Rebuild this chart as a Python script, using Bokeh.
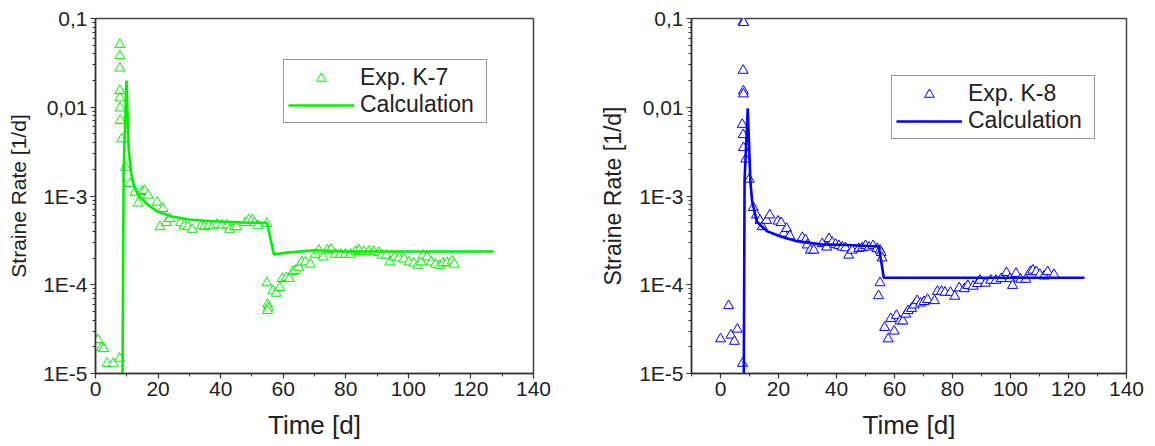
from bokeh.plotting import figure
from bokeh.layouts import row
from bokeh.models import (Range1d, SingleIntervalTicker, FixedTicker, CustomJSTickFormatter,
                          Legend, LegendItem)
from bokeh.embed import file_html
from bokeh.resources import INLINE

# ---------------- data ----------------
k7_exp_x = [0.8, 1.9, 2.6, 3.7, 5.7, 7.7,
            7.8, 7.8, 7.8, 7.8, 7.8, 7.9, 7.9, 8.4, 9.6, 11.0, 12.6, 13.6, 14.9, 15.7, 16.8,
            19.7, 21.6, 20.6, 22.7, 23.8, 27.2, 28.4, 29.5, 30.9, 33.8, 34.8, 36.2, 37.6, 38.9,
            40.5, 42.1, 42.9, 44.4, 45.1, 47.9, 49.0, 50.1, 50.8, 51.9, 54.8,
            54.8, 55.0, 55.2, 55.0, 56.7, 57.8, 58.9, 59.7, 61.0, 62.0, 63.1, 63.9, 65.0, 66.0,
            67.1, 68.7, 70.3, 71.4, 72.8, 74.1, 75.3, 76.7, 78.3, 79.9, 81.5, 83.1, 84.2, 85.8,
            87.4, 89.0, 90.6, 91.6, 93.0, 94.1, 95.6, 97.0, 98.6, 100.2, 101.7, 103.0, 104.1,
            104.7, 106.0, 107.3, 108.7, 110.0, 111.1, 112.4, 114.0, 114.7]
k7_exp_y = [2.4e-5, 1.95e-5, 1.9e-5, 1.3e-5, 1.3e-5, 1.48e-5,
            0.051, 0.038, 0.0276, 0.0154, 0.0127, 0.0098, 0.0071, 0.0044, 0.0021, 0.00138, 0.0011,
            8.3e-4, 1.12e-3, 1.15e-3, 1.02e-3,
            8.5e-4, 7.2e-4, 4.5e-4, 5.0e-4, 5.55e-4, 5.0e-4, 4.6e-4, 4.5e-4, 4.2e-4, 4.6e-4,
            4.5e-4, 4.6e-4, 4.6e-4, 4.8e-4, 4.7e-4, 4.7e-4, 4.2e-4, 4.5e-4, 4.5e-4, 5.0e-4,
            5.4e-4, 5.4e-4, 5.0e-4, 4.6e-4, 4.9e-4,
            1.05e-4, 6.0e-5, 5.5e-5, 5.1e-5, 8.5e-5, 8.0e-5, 9.3e-5, 1.17e-4, 1.2e-4, 1.17e-4,
            1.4e-4, 1.45e-4, 1.57e-4, 1.8e-4, 1.8e-4, 1.7e-4, 2.2e-4, 2.45e-4, 2.05e-4, 2.45e-4,
            2.5e-4, 2.2e-4, 2.2e-4, 2.2e-4, 2.2e-4, 2.37e-4, 2.45e-4, 2.37e-4, 2.37e-4, 2.37e-4,
            2.3e-4, 2.15e-4, 2.15e-4, 1.8e-4, 2.05e-4, 2.0e-4, 1.95e-4, 1.8e-4, 1.75e-4, 1.65e-4,
            1.8e-4, 2.15e-4, 2.05e-4, 1.8e-4, 1.7e-4, 1.65e-4, 1.75e-4, 1.78e-4, 1.85e-4, 1.7e-4]

k7_calc_x = [8.6, 9.0, 9.9, 10.6, 11.4, 12.3, 13.8, 16.5, 19.7, 24.0, 30.4, 37.8, 48.5, 54.8,
             57.0, 61.3, 69.8, 80.0, 100.0, 127.3]
k7_calc_y = [5e-6, 2e-3, 0.02, 0.0034, 0.0018, 0.0013, 1.0e-3, 8.1e-4, 6.7e-4, 5.9e-4, 5.4e-4,
             5.2e-4, 5.0e-4, 5.0e-4, 2.2e-4, 2.3e-4, 2.45e-4, 2.37e-4, 2.37e-4, 2.37e-4]

k8_exp_x = [0.0, 2.8, 3.6, 4.8, 5.8, 7.6,
            7.8, 8.0, 7.8, 7.9, 7.9, 7.5, 7.8, 7.9, 8.7, 9.9, 11.3, 12.4, 13.6, 14.4, 15.9, 17.0,
            19.8, 20.9, 21.8, 22.8, 23.9, 28.2, 29.3, 29.9, 31.0, 32.2, 35.1, 36.6, 37.4, 38.5,
            39.7, 40.8, 42.0, 43.1, 44.2, 45.4, 47.7, 48.9, 50.0, 51.2, 52.6, 54.0, 55.0, 55.4,
            55.7, 55.0, 54.5,
            56.6, 57.8, 58.7, 59.9, 60.7, 61.9, 62.9, 63.9, 64.7, 65.9, 66.8, 67.8, 69.0, 70.2,
            71.4, 73.8, 74.8, 76.2, 77.4, 79.3, 80.8, 82.3, 84.1, 85.3, 87.1, 88.6, 89.5, 91.4,
            93.2, 95.0, 96.8, 98.6, 99.8, 100.7, 101.9, 103.5, 105.3, 106.8, 107.7, 108.9,
            110.1, 111.6, 112.8, 115.0]
k8_exp_y = [2.45e-5, 5.8e-5, 2.7e-5, 2.3e-5, 3.15e-5, 1.3e-5,
            0.092, 0.09, 0.026, 0.0152, 0.0141, 0.0064, 0.0049, 0.0035, 0.0026, 0.00154, 7.4e-4,
            6.1e-4, 5.3e-4, 4.5e-4, 5.3e-4, 6.1e-4,
            5.2e-4, 5.0e-4, 3.8e-4, 4.3e-4, 3.55e-4, 3.4e-4, 3.2e-4, 2.8e-4, 2.45e-4, 2.45e-4,
            2.9e-4, 2.65e-4, 3.3e-4, 3.0e-4, 2.85e-4, 2.75e-4, 2.65e-4, 2.6e-4, 2.15e-4, 2.45e-4,
            2.55e-4, 2.6e-4, 2.75e-4, 2.65e-4, 2.75e-4, 2.55e-4, 2.45e-4, 2.3e-4,
            2.0e-4, 1.05e-4, 7.5e-5,
            3.3e-5, 2.45e-5, 4.15e-5, 3.0e-5, 4.5e-5, 3.9e-5, 3.9e-5, 4.65e-5, 5.1e-5, 5.4e-5,
            5.9e-5, 6.6e-5, 6.2e-5, 6.45e-5, 6.8e-5, 6.6e-5, 8.4e-5, 8.4e-5, 8.2e-5, 8.2e-5,
            7.4e-5, 9.2e-5, 9.0e-5, 9.8e-5, 9.6e-5, 1.03e-4, 1.12e-4, 1.04e-4, 1.12e-4, 1.12e-4,
            1.17e-4, 1.37e-4, 1.17e-4, 9.8e-5, 1.34e-4, 1.15e-4, 1.15e-4, 1.4e-4, 1.46e-4,
            1.4e-4, 1.3e-4, 1.25e-4, 1.4e-4, 1.3e-4]

k8_calc_x = [8.0, 8.3, 9.4, 10.3, 10.9, 12.6, 16.1, 20.7, 26.4, 34.5, 43.7, 54.6, 56.3, 80.0,
             100.0, 125.5]
k8_calc_y = [5e-6, 1.5e-3, 0.0097, 1.48e-3, 8.7e-4, 5.1e-4, 4.0e-4, 3.5e-4, 3.1e-4, 2.85e-4,
             2.8e-4, 2.7e-4, 1.2e-4, 1.2e-4, 1.2e-4, 1.2e-4]

y_tick_values = [1e-5, 1e-4, 1e-3, 1e-2, 1e-1]
y_tick_labels = ["1E-5", "1E-4", "1E-3", "0,01", "0,1"]

FONT = "Liberation Sans"
AX = "#333333"
H = 446


def make_plot(xr, exp_x, exp_y, calc_x, calc_y, color, exp_label, width, mb_left, mb_right,
              mb_top, mb_bottom, ylab_size, legend_loc):
    p = figure(width=width, height=H, y_axis_type="log",
               x_range=Range1d(*xr), y_range=Range1d(1e-5, 0.1),
               output_backend="svg", toolbar_location=None,
               min_border_left=mb_left, min_border_right=mb_right,
               min_border_top=mb_top, min_border_bottom=mb_bottom,
               background_fill_color="white", border_fill_color="white")
    p.xgrid.visible = False
    p.ygrid.visible = False
    p.outline_line_color = "#444444"
    p.outline_line_width = 1.5

    r_exp = p.scatter(exp_x, exp_y, marker="triangle", size=10, line_color=color,
                      fill_color="white", line_width=1)
    r_calc = p.line(calc_x, calc_y, line_color=color, line_width=2.6)

    p.xaxis.ticker = SingleIntervalTicker(interval=20, num_minor_ticks=2)
    minor = [m * 10.0 ** e for e in range(-5, -1) for m in range(2, 10)]
    p.yaxis.ticker = FixedTicker(ticks=y_tick_values, minor_ticks=minor)
    p.yaxis.formatter = CustomJSTickFormatter(
        args=dict(labels=y_tick_labels),
        code="return labels[Math.round(Math.log10(tick)) + 5];")

    for ax in (p.xaxis[0], p.yaxis[0]):
        ax.axis_line_color = AX
        ax.axis_line_width = 1.5
        ax.major_tick_line_color = AX
        ax.minor_tick_line_color = AX
        ax.major_tick_line_width = 1.2
        ax.minor_tick_line_width = 1
        ax.major_tick_out = 5
        ax.major_tick_in = 0
        ax.minor_tick_out = 3
        ax.minor_tick_in = 0
        ax.major_label_text_font = FONT
        ax.major_label_text_font_size = "21px"
        ax.major_label_text_color = "#222222"
        ax.major_label_standoff = 3
        ax.axis_label_text_font = FONT
        ax.axis_label_text_font_style = "normal"
        ax.axis_label_text_color = "#222222"

    p.xaxis.axis_label = "Time [d]"
    p.xaxis.axis_label_text_font_size = "26px"
    p.xaxis.axis_label_standoff = 11
    p.yaxis.axis_label = "Straine Rate [1/d]"
    p.yaxis.axis_label_text_font_size = ylab_size
    p.yaxis.axis_label_standoff = 10

    legend = Legend(items=[LegendItem(label=exp_label, renderers=[r_exp]),
                           LegendItem(label="Calculation", renderers=[r_calc])],
                    location=legend_loc)
    legend.border_line_color = "#333333"
    legend.border_line_width = 1
    legend.background_fill_color = "white"
    legend.background_fill_alpha = 1
    legend.label_text_font = FONT
    legend.label_text_font_size = "23px"
    legend.label_text_color = "#222222"
    legend.glyph_width = 66
    legend.glyph_height = 24
    legend.label_standoff = 6
    legend.label_width = 122
    legend.padding = 4
    legend.spacing = 0
    legend.margin = 0
    p.add_layout(legend)
    return p


# frame: left plot x 95..533, right plot x 691..1126, y ~20..373 (page pixels)
p1 = make_plot((0, 140), k7_exp_x, k7_exp_y, k7_calc_x, k7_calc_y, "#00f000", "Exp. K-7",
               593, 95, 60, 15, H - 373, "21px", (188, 250))
p2 = make_plot((-10, 140), k8_exp_x, k8_exp_y, k8_calc_x, k8_calc_y, "#0000ff", "Exp. K-8",
               560, 98, 27, 18, H - 373, "23px", (200, 234))

layout = row(p1, p2)
open("out.html", "w").write(file_html(layout, INLINE))
